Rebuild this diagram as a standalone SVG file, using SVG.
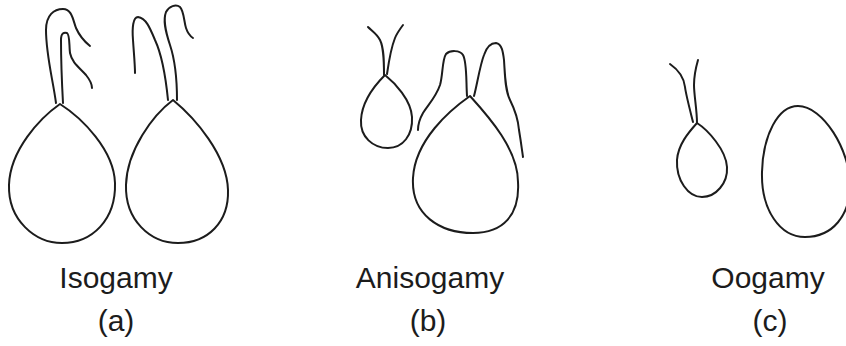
<svg xmlns="http://www.w3.org/2000/svg" width="846" height="346" viewBox="0 0 846 346">
  <style>
    .cell { fill: none; stroke: #1c1c1c; stroke-width: 2; stroke-linecap: round; stroke-linejoin: round; }
    .label { font-family: "Liberation Sans", Arial, Helvetica, sans-serif; font-size: 30px; fill: #1c1c1c; text-anchor: middle; }
  </style>
  <rect width="846" height="346" fill="#ffffff"/>

  <!-- (a) Isogamy: two equal flagellated gametes -->
  <g id="iso-gamete-1" class="cell">
    <path d="M60,104 C40,118 10,150 9,185 C8,220 35,243 62,243 C92,243 116,220 115,183 C114,150 82,118 60,104 Z"/>
    <path d="M56,103 C53,80 46,55 46,30 C46,15 54,9 63,9 C72,9 73,20 76,28 C80,37 85,42 90,46"/>
    <path d="M63,103 C62,85 61,55 61,40 C61,33 64,32 67,33 C70,35 69,45 70,53 C72,63 80,68 86,75 C90,80 92,85 92,88"/>
  </g>
  <g id="iso-gamete-2" class="cell">
    <path d="M173,100 C153,115 127,150 126,185 C125,220 150,243 178,243 C208,243 229,222 228,190 C227,155 195,118 173,100 Z"/>
    <path d="M168,100 C166,80 162,55 155,40 C150,28 146,18 138,17 C133,17 132,28 133,40 C134,55 135,65 135,73"/>
    <path d="M177,100 C177,80 175,60 170,45 C165,30 163,20 166,12 C169,6 176,4 180,7 C184,11 184,22 186,28 C188,34 190,36 193,38"/>
  </g>

  <!-- (b) Anisogamy: small and large flagellated gametes -->
  <g id="aniso-small" class="cell">
    <path d="M385,75 C375,85 362,100 361,120 C360,137 373,148 388,148 C403,148 413,135 412,117 C411,100 395,83 385,75 Z"/>
    <path d="M384,75 C384,62 384,48 380,40 C377,34 372,31 368,27"/>
    <path d="M387,74 C389,60 391,48 395,38 C397,33 400,29 403,25"/>
  </g>
  <g id="aniso-large" class="cell">
    <path d="M470,96 C450,110 415,140 413,178 C411,215 440,233 473,233 C503,233 520,215 518,182 C518,150 490,118 470,96 Z"/>
    <path d="M467,96 C466,80 467,62 463,55 C460,50 450,50 446,54 C442,60 443,75 440,85 C436,97 428,105 423,113 C419,120 418,126 418,130"/>
    <path d="M474,96 C477,85 480,65 484,55 C487,46 492,43 496,43 C502,44 503,52 504,60 C505,75 505,90 510,100 C515,110 518,118 519,130 C521,142 522,150 523,157"/>
  </g>

  <!-- (c) Oogamy: flagellated sperm and non-motile egg -->
  <g id="oo-sperm" class="cell">
    <path d="M697,123 C688,133 678,145 677,160 C676,180 688,197 702,197 C716,197 728,183 727,167 C726,150 708,130 697,123 Z"/>
    <path d="M693,122 C690,110 686,95 685,87 C684,78 680,71 670,64"/>
    <path d="M697,123 C697,110 694,95 694,85 C694,75 696,67 698,60"/>
  </g>
  <g id="oo-egg" class="cell">
    <path d="M798,106 C778,106 763,135 762,172 C761,210 780,237 805,237 C833,237 850,215 850,185 C850,150 823,106 798,106 Z"/>
  </g>

  <!-- captions -->
  <g id="caption-a">
    <text class="label" x="116" y="288">Isogamy</text>
    <text class="label" x="116" y="331">(a)</text>
  </g>
  <g id="caption-b">
    <text class="label" x="430" y="288">Anisogamy</text>
    <text class="label" x="428" y="331">(b)</text>
  </g>
  <g id="caption-c">
    <text class="label" x="768" y="288">Oogamy</text>
    <text class="label" x="770" y="331">(c)</text>
  </g>
</svg>
